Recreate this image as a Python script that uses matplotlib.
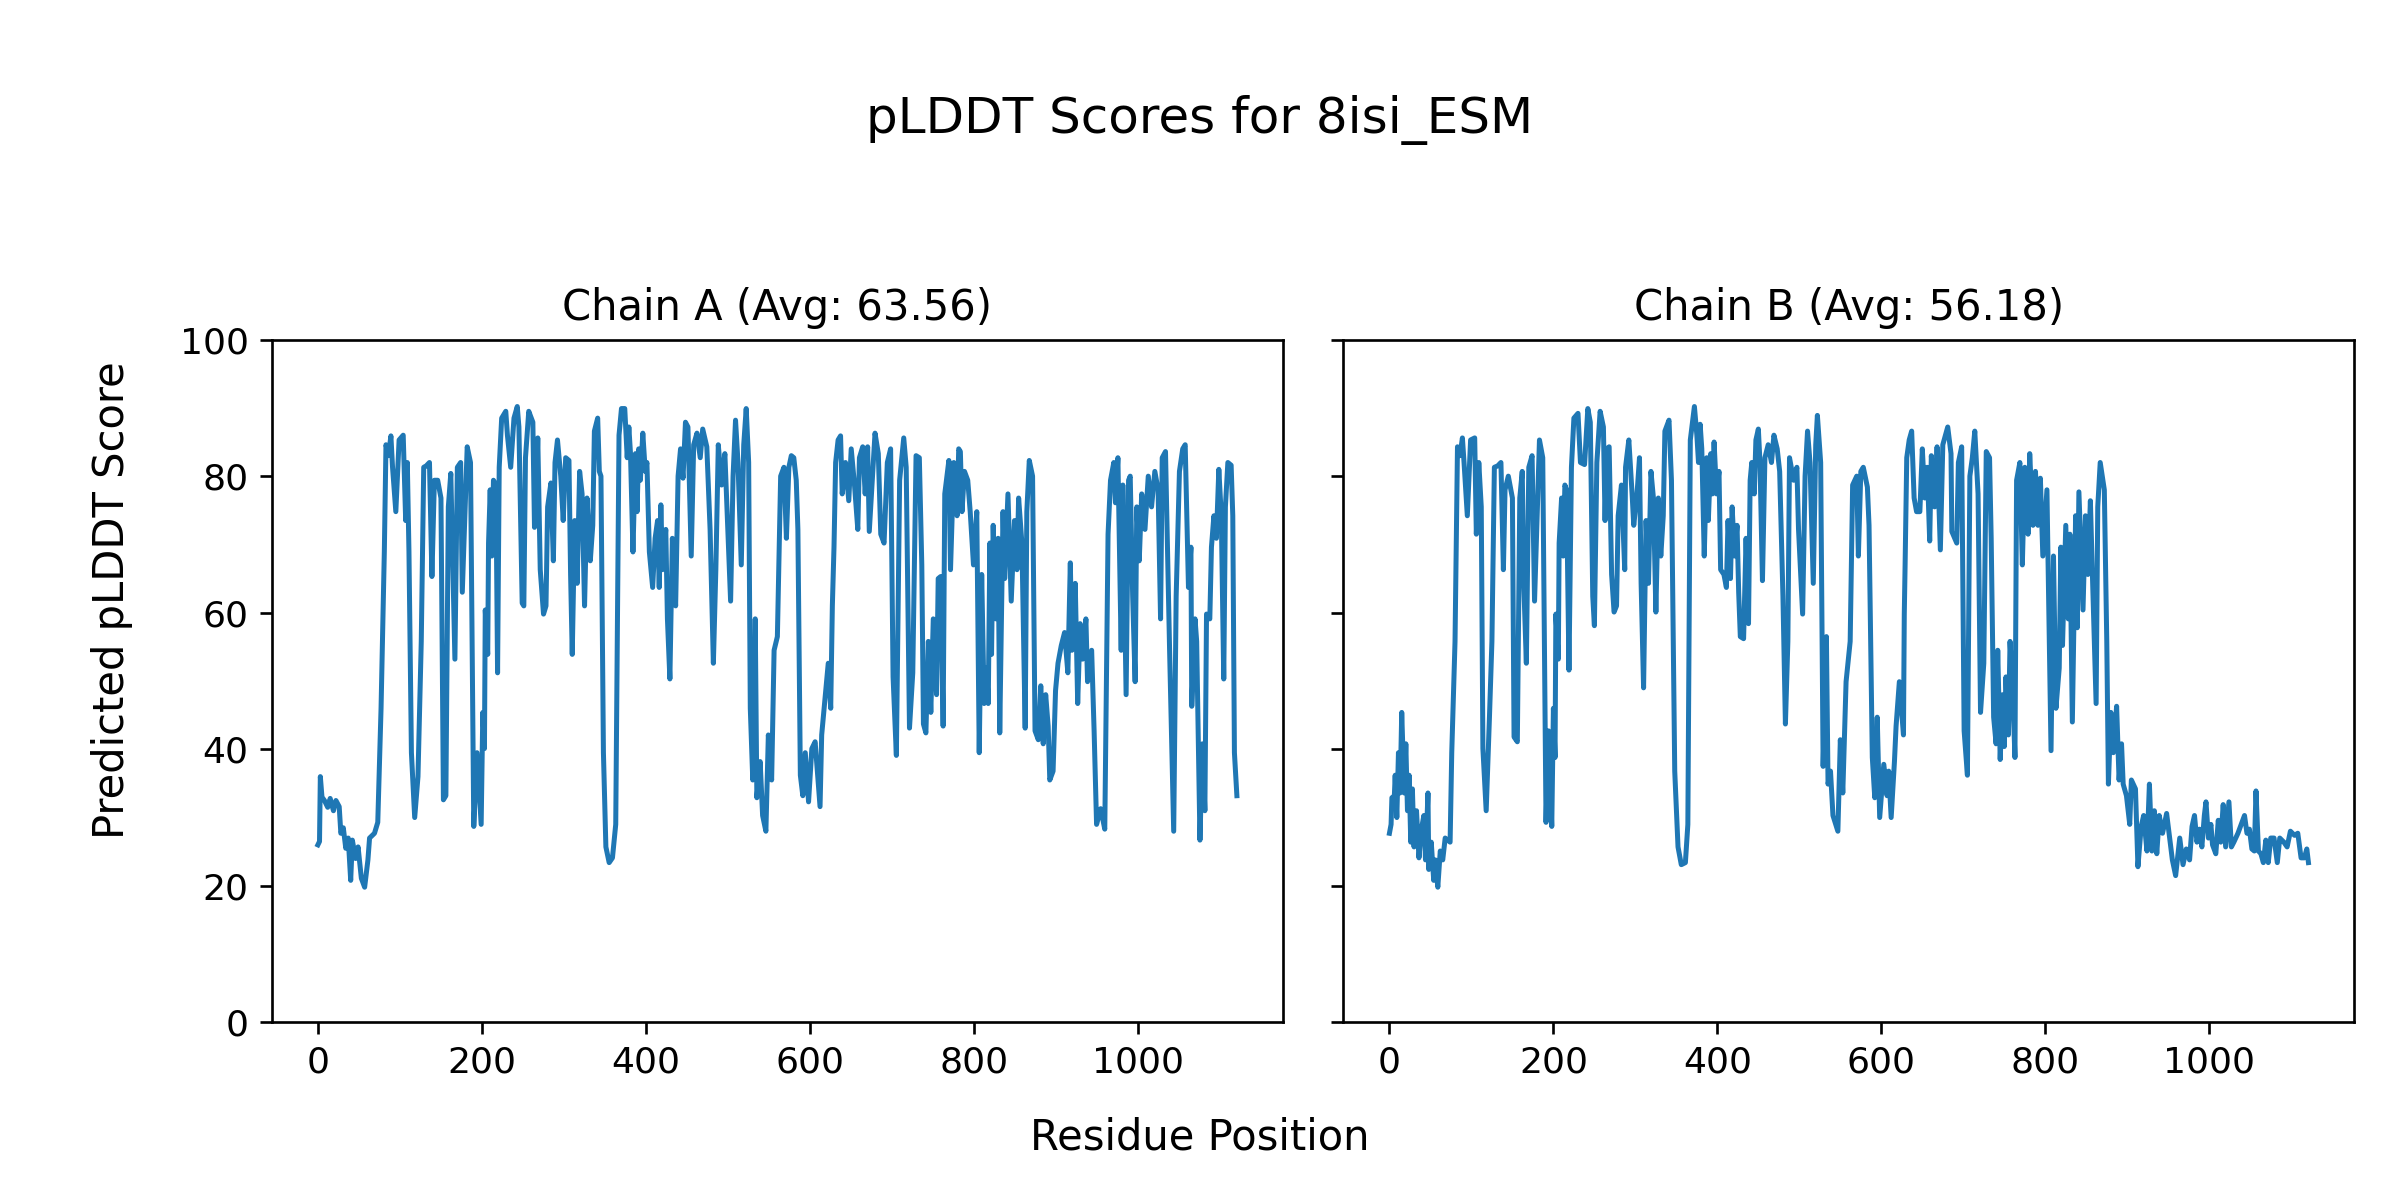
# pLDDT per-residue plot for 8isi_ESM, two chains side by side

import matplotlib
matplotlib.use("Agg")
import matplotlib.pyplot as plt

# === Data (residue position, pLDDT) ===
chain_names = ['A', 'B']
avg_scores = [63.56, 56.18]

pos_a = [0, 2, 3, 5, 8, 12, 15, 19, 22, 26, 28, 31, 34, 37, 40, 42, 46, 49, 53, 57,
         61, 63, 69, 73, 77, 81, 83, 86, 89, 91, 95, 99, 104, 107, 109, 111, 114, 118, 122, 126,
         129, 132, 136, 139, 142, 146, 150, 153, 156, 159, 162, 165, 167, 170, 174, 176, 182, 186, 190, 194,
         199, 201, 203, 204, 207, 208, 210, 212, 214, 217, 219, 221, 224, 229, 231, 235, 239, 243, 245, 249,
         251, 253, 257, 262, 264, 266, 268, 271, 275, 278, 280, 284, 287, 289, 292, 296, 299, 302, 306, 308,
         310, 313, 316, 319, 322, 325, 328, 332, 335, 337, 341, 343, 345, 348, 351, 355, 359, 363, 367, 370,
         374, 377, 379, 381, 384, 387, 389, 391, 393, 396, 399, 401, 404, 408, 411, 414, 416, 418, 420, 424,
         426, 429, 432, 436, 439, 442, 445, 448, 451, 455, 458, 462, 466, 469, 474, 478, 482, 485, 488, 492,
         496, 499, 503, 506, 509, 512, 516, 519, 522, 525, 527, 530, 533, 535, 539, 542, 546, 549, 553, 556,
         560, 564, 568, 571, 574, 577, 580, 583, 585, 588, 591, 594, 598, 602, 606, 612, 614, 618, 622, 625,
         627, 629, 631, 634, 637, 639, 643, 647, 650, 654, 658, 660, 664, 667, 670, 672, 676, 679, 683, 686,
         690, 694, 698, 701, 705, 709, 714, 717, 721, 725, 729, 733, 736, 738, 741, 744, 747, 750, 754, 756,
         759, 762, 764, 769, 771, 775, 779, 781, 783, 785, 788, 792, 795, 799, 803, 806, 809, 812, 815, 817,
         819, 821, 823, 826, 829, 831, 835, 837, 841, 845, 849, 852, 854, 858, 862, 864, 867, 871, 874, 878,
         881, 884, 887, 890, 892, 896, 899, 902, 906, 910, 914, 917, 919, 923, 926, 929, 932, 936, 938, 943,
         946, 949, 954, 959, 963, 966, 970, 972, 975, 979, 981, 985, 988, 990, 993, 996, 998, 1001, 1004, 1008,
         1012, 1016, 1020, 1024, 1027, 1029, 1033, 1038, 1043, 1046, 1050, 1054, 1057, 1061, 1064, 1065, 1069, 1071, 1075, 1078,
         1081, 1083, 1087, 1089, 1092, 1095, 1098, 1101, 1104, 1106, 1109, 1113, 1115, 1117, 1120]
plddt_a = [26.0, 26.5, 36.0, 33.0, 32.5, 31.5, 32.8, 31.0, 32.5, 31.6, 27.7, 28.5, 25.5, 27.0, 20.8, 26.7, 24.0, 25.7, 21.1, 19.8,
           23.8, 27.0, 27.7, 29.3, 46.0, 69.0, 84.6, 83.0, 85.9, 81.3, 74.8, 85.3, 86.0, 73.5, 82.0, 69.0, 39.5, 30.0, 36.0, 55.8,
           81.3, 81.5, 82.0, 65.3, 79.4, 79.4, 76.8, 32.6, 33.2, 75.5, 80.4, 64.3, 53.2, 81.3, 82.0, 63.0, 84.3, 82.0, 28.7, 39.5,
           29.0, 45.4, 40.1, 60.4, 53.9, 70.2, 78.0, 68.3, 79.4, 78.7, 51.2, 81.3, 88.5, 89.5, 86.0, 81.3, 88.5, 90.2, 87.2, 61.4,
           61.0, 82.7, 89.5, 87.9, 72.5, 76.8, 85.6, 66.3, 59.8, 61.0, 75.5, 79.0, 67.6, 82.0, 85.3, 80.0, 73.5, 82.7, 82.3, 65.6,
           53.9, 73.5, 64.3, 80.7, 77.4, 61.0, 76.8, 67.6, 72.8, 86.6, 88.5, 80.7, 80.0, 39.5, 25.7, 23.4, 24.1, 29.0, 86.0, 89.9,
           89.9, 82.7, 87.2, 83.3, 68.9, 83.3, 74.8, 84.0, 79.4, 86.3, 80.7, 82.0, 68.9, 63.7, 70.9, 73.5, 63.7, 75.8, 66.3, 72.2,
           59.1, 50.3, 70.9, 61.0, 80.0, 84.0, 79.7, 87.9, 87.2, 68.3, 84.6, 86.3, 82.7, 86.9, 84.3, 72.2, 52.6, 66.3, 84.6, 78.7,
           83.3, 74.2, 61.7, 80.0, 88.2, 82.0, 67.0, 84.6, 89.9, 82.0, 46.0, 35.5, 59.1, 32.9, 38.2, 30.3, 28.0, 42.1, 35.5, 54.5,
           56.5, 80.0, 81.3, 70.9, 81.3, 83.0, 82.7, 79.4, 72.2, 36.2, 33.2, 39.5, 32.3, 40.1, 41.1, 31.6, 42.1, 47.3, 52.6, 46.0,
           61.0, 69.6, 82.0, 85.3, 85.9, 77.4, 82.0, 76.4, 84.0, 78.7, 72.2, 82.7, 84.3, 77.4, 84.3, 71.9, 80.0, 86.3, 83.3, 71.5,
           70.2, 82.0, 84.0, 50.6, 39.1, 79.4, 85.6, 81.3, 43.1, 51.2, 83.0, 82.7, 67.0, 43.7, 42.4, 55.8, 45.4, 59.1, 48.0, 65.0,
           65.3, 43.4, 77.4, 82.3, 66.3, 82.0, 74.2, 84.0, 83.6, 74.8, 80.7, 79.4, 74.8, 67.0, 74.8, 39.5, 65.6, 46.7, 51.9, 46.7,
           70.2, 53.9, 72.8, 59.1, 70.9, 42.4, 74.8, 65.0, 77.4, 61.7, 73.5, 66.3, 76.8, 70.2, 43.1, 74.8, 82.3, 80.0, 42.7, 41.4,
           49.3, 40.8, 48.0, 43.4, 35.5, 36.8, 48.6, 52.6, 55.2, 57.1, 51.2, 67.3, 54.5, 64.3, 46.7, 58.4, 53.2, 59.1, 49.9, 54.5,
           42.7, 29.0, 31.3, 28.3, 71.5, 79.4, 82.0, 76.1, 82.7, 54.5, 78.7, 48.0, 79.4, 80.0, 62.4, 49.9, 75.5, 67.6, 77.4, 72.2,
           80.0, 75.5, 80.7, 78.0, 59.1, 82.7, 83.6, 54.5, 28.0, 62.4, 80.7, 84.0, 84.6, 63.7, 69.6, 46.3, 59.1, 55.8, 26.7, 40.8,
           31.0, 59.8, 59.1, 69.6, 74.2, 70.9, 81.0, 74.2, 50.3, 75.5, 82.0, 81.6, 74.2, 39.5, 33.2]

pos_b = [0, 2, 3, 6, 7, 9, 11, 13, 15, 18, 20, 22, 24, 26, 28, 30, 33, 36, 39, 42,
         44, 47, 48, 51, 54, 56, 59, 62, 65, 68, 74, 76, 80, 83, 86, 89, 91, 95, 99, 104,
         106, 109, 112, 114, 118, 122, 125, 128, 132, 136, 139, 141, 145, 150, 152, 156, 159, 162, 164, 167,
         170, 174, 177, 183, 187, 191, 194, 198, 200, 202, 203, 206, 207, 210, 212, 214, 216, 219, 222, 225,
         230, 233, 238, 242, 245, 248, 250, 253, 257, 261, 263, 265, 268, 271, 274, 277, 279, 283, 287, 288,
         292, 296, 298, 302, 305, 307, 310, 313, 316, 319, 322, 325, 328, 331, 334, 336, 341, 344, 348, 352,
         356, 361, 364, 367, 372, 375, 377, 379, 381, 384, 387, 389, 392, 394, 396, 399, 402, 404, 408, 411,
         413, 416, 418, 421, 424, 426, 428, 432, 435, 438, 440, 442, 445, 447, 450, 452, 455, 458, 462, 466,
         469, 473, 476, 480, 483, 486, 488, 493, 497, 499, 504, 507, 510, 513, 517, 520, 522, 526, 529, 533,
         535, 538, 541, 547, 550, 553, 557, 562, 565, 570, 572, 575, 578, 583, 585, 589, 592, 595, 598, 603,
         607, 609, 612, 616, 618, 622, 627, 628, 629, 631, 634, 637, 640, 643, 647, 650, 653, 656, 659, 661,
         665, 668, 672, 675, 681, 685, 686, 692, 694, 698, 701, 705, 708, 711, 714, 718, 721, 725, 728, 732,
         734, 737, 740, 742, 745, 748, 750, 752, 755, 757, 760, 763, 765, 769, 772, 775, 779, 781, 785, 788,
         791, 794, 797, 802, 804, 807, 810, 813, 817, 819, 821, 825, 828, 830, 833, 837, 839, 841, 846, 849,
         852, 855, 857, 862, 864, 867, 872, 875, 877, 880, 883, 887, 890, 893, 895, 899, 903, 905, 910, 913,
         917, 920, 924, 927, 930, 933, 936, 939, 943, 948, 951, 955, 959, 964, 968, 972, 976, 979, 982, 985,
         988, 991, 994, 996, 999, 1002, 1004, 1008, 1011, 1014, 1017, 1020, 1024, 1027, 1030, 1035, 1039, 1043, 1046, 1049,
         1052, 1055, 1057, 1060, 1063, 1066, 1069, 1072, 1075, 1079, 1083, 1086, 1091, 1095, 1099, 1104, 1108, 1112, 1116, 1119,
         1121]
plddt_b = [27.7, 29.0, 32.9, 33.2, 36.2, 30.0, 39.5, 33.6, 45.4, 33.6, 40.8, 31.0, 36.2, 26.4, 34.2, 25.7, 31.0, 24.1, 28.3, 30.3,
           23.8, 33.6, 22.4, 26.4, 20.8, 23.8, 19.8, 25.1, 23.8, 27.0, 26.4, 39.5, 55.8, 84.3, 83.0, 85.6, 82.0, 74.2, 85.3, 85.6,
           71.5, 82.0, 75.5, 40.1, 31.0, 44.7, 55.8, 81.3, 81.5, 82.0, 66.3, 78.0, 80.0, 76.8, 41.8, 41.1, 76.8, 80.7, 63.7, 52.6,
           81.3, 83.0, 61.7, 85.3, 82.7, 29.3, 42.7, 28.7, 46.0, 38.8, 59.8, 53.2, 70.2, 76.8, 68.3, 78.7, 78.0, 51.6, 81.3, 88.5,
           89.2, 82.0, 81.7, 89.9, 87.9, 62.4, 58.1, 82.0, 89.5, 87.2, 73.5, 84.0, 84.3, 65.6, 60.1, 61.0, 74.2, 78.7, 66.3, 81.3,
           85.3, 77.4, 72.8, 77.4, 82.7, 64.3, 49.0, 73.5, 64.3, 80.7, 76.8, 60.1, 76.8, 68.3, 74.2, 86.6, 88.2, 79.4, 36.8, 25.7,
           23.1, 23.4, 29.0, 85.3, 90.2, 86.0, 82.0, 87.6, 84.0, 68.3, 82.7, 73.5, 83.3, 77.4, 85.0, 77.4, 80.7, 66.3, 65.6, 63.7,
           73.5, 65.0, 75.5, 68.3, 72.8, 63.0, 56.5, 56.2, 70.9, 58.4, 79.4, 82.0, 77.4, 85.3, 86.9, 82.0, 64.7, 82.7, 84.6, 82.0,
           86.0, 84.0, 80.7, 62.4, 43.7, 55.8, 82.7, 79.4, 81.3, 72.2, 59.8, 80.0, 86.6, 82.0, 64.3, 84.6, 88.9, 82.0, 37.5, 56.5,
           34.9, 36.8, 30.3, 28.0, 41.4, 33.6, 49.9, 55.8, 78.7, 80.0, 68.3, 80.7, 81.3, 78.4, 72.8, 38.8, 32.9, 44.7, 30.0, 37.8,
           33.2, 36.8, 30.0, 38.2, 43.4, 49.9, 42.1, 59.8, 67.0, 82.7, 85.3, 86.6, 76.8, 74.8, 74.8, 84.0, 76.8, 81.3, 70.5, 83.0,
           75.5, 84.3, 69.2, 84.6, 87.2, 83.3, 71.9, 70.2, 82.0, 84.3, 42.7, 36.2, 80.0, 82.7, 86.6, 77.4, 45.4, 52.6, 83.6, 82.7,
           70.9, 44.7, 40.8, 54.5, 38.5, 48.0, 40.4, 50.6, 42.1, 55.8, 49.3, 38.8, 79.4, 82.0, 67.0, 81.3, 71.5, 83.3, 72.8, 80.7,
           72.8, 79.7, 68.3, 78.0, 62.4, 39.8, 68.3, 46.0, 51.9, 69.6, 55.2, 72.8, 59.1, 71.5, 44.0, 74.2, 57.8, 77.7, 60.4, 74.2,
           65.6, 76.4, 67.6, 46.7, 75.5, 82.0, 78.0, 55.8, 34.9, 45.4, 39.5, 46.3, 35.5, 40.8, 34.9, 33.2, 29.0, 35.5, 34.2, 22.8,
           28.7, 30.3, 25.1, 34.9, 25.1, 31.0, 24.7, 30.3, 27.7, 30.6, 27.7, 23.8, 21.5, 27.0, 23.1, 25.4, 23.8, 28.7, 30.3, 26.4,
           28.3, 25.7, 30.3, 32.3, 27.0, 29.0, 26.0, 24.7, 29.6, 26.4, 31.9, 25.7, 32.3, 25.7, 26.4, 27.7, 29.0, 30.3, 27.7, 28.3,
           25.4, 25.1, 33.9, 25.1, 24.7, 23.4, 26.7, 23.4, 27.0, 27.0, 23.4, 27.0, 26.4, 25.7, 28.0, 27.4, 27.7, 24.1, 24.1, 25.4,
           23.4]

positions = [pos_a, pos_b]
scores = [plddt_a, plddt_b]


def main():
    # sizes bumped a bit to match the reference's text
    plt.rcParams.update({
        'xtick.labelsize': 13, 'ytick.labelsize': 13,
        'xtick.major.size': 4.2, 'ytick.major.size': 4.2,
        'xtick.major.width': 0.96, 'ytick.major.width': 0.96,
        'xtick.major.pad': 4.2, 'ytick.major.pad': 4.2,
        'axes.linewidth': 0.96,
    })

    fig, axes = plt.subplots(1, 2, figsize=(12, 6), sharey=True)
    fig.subplots_adjust(left=0.1133, right=0.981, bottom=0.148, top=0.717, wspace=0.06)

    for ax, name, avg, x, y in zip(axes, chain_names, avg_scores, positions, scores):
        ax.plot(x, y, color='C0', lw=1.8)
        ax.set_title(f'Chain {name} (Avg: {avg:.2f})', fontsize=15, pad=7.2)
        ax.set_ylim(0, 100)

    fig.suptitle('pLDDT Scores for 8isi_ESM', fontsize=18, y=0.90, va='center')
    fig.supxlabel('Residue Position', fontsize=15, y=0.052, va='center')
    fig.supylabel('Predicted pLDDT Score', fontsize=15, x=0.0466, ha='center')

    plt.savefig('out.png', dpi=200, facecolor='white')


if __name__ == "__main__":
    main()
